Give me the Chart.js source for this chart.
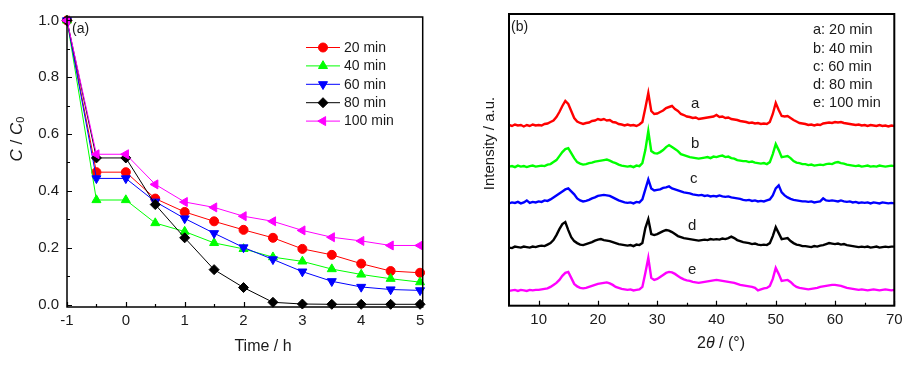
<!DOCTYPE html>
<html><head><meta charset="utf-8">
<script src="https://cdn.jsdelivr.net/npm/chart.js@4.4.1/dist/chart.umd.min.js"></script>
<style>
html,body{margin:0;padding:0;background:#fff;}
#wrap{position:relative;width:913px;height:366px;overflow:hidden;background:#fff;}
#ca{position:absolute;left:0;top:0;width:456px;height:366px;}
#cb{position:absolute;left:456px;top:0;width:457px;height:366px;}
</style></head><body>
<div id="wrap"><canvas id="ca" width="456" height="366"></canvas><canvas id="cb" width="457" height="366"></canvas></div>
<script>
// ---------- Panel (a): C/C0 vs time ----------
const timeH = [-1,-0.5,0,0.5,1,1.5,2,2.5,3,3.5,4,4.5,5];
const c20min  = [1.0,0.466,0.466,0.373,0.326,0.293,0.263,0.235,0.196,0.175,0.144,0.118,0.112];
const c40min  = [1.0,0.368,0.368,0.287,0.257,0.217,0.196,0.167,0.152,0.125,0.106,0.091,0.079];
const c60min  = [1.0,0.444,0.444,0.362,0.303,0.251,0.201,0.159,0.116,0.082,0.062,0.053,0.050];
const c80min  = [1.0,0.516,0.516,0.352,0.235,0.123,0.060,0.008,0.002,0.001,0.001,0.001,0.001];
const c100min = [1.0,0.529,0.529,0.423,0.361,0.342,0.311,0.293,0.261,0.237,0.224,0.208,0.208];
const seriesNames = ['20 min','40 min','60 min','80 min','100 min'];
const yTicksA = [0,0.2,0.4,0.6,0.8,1.0];

// ---------- Panel (b): XRD patterns ----------
const twoTheta = [
 5,5.5,6,6.5,7,7.5,8,8.5,9,9.5,
 10,10.5,11,11.5,12,12.5,13,13.5,14,14.5,
 15,15.5,16,16.5,17,17.5,18,18.5,19,19.5,
 20,20.5,21,21.5,22,22.5,23,23.5,24,24.5,
 25,25.5,26,26.5,27,27.5,28,28.5,29,29.5,
 30,30.5,31,31.5,32,32.5,33,33.5,34,34.5,
 35,35.5,36,36.5,37,37.5,38,38.5,39,39.5,
 40,40.5,41,41.5,42,42.5,43,43.5,44,44.5,
 45,45.5,46,46.5,47,47.5,48,48.5,49,49.5,
 50,50.5,51,51.5,52,52.5,53,53.5,54,54.5,
 55,55.5,56,56.5,57,57.5,58,58.5,59,59.5,
 60,60.5,61,61.5,62,62.5,63,63.5,64,64.5,
 65,65.5,66,66.5,67,67.5,68,68.5,69,69.5,
 70];
const xrdA = [
 1,0,1.5,0.5,1,-0.5,1,0,1.5,0.5,
 1,0.5,2,2.5,4,5.5,9,14,20,25,
 22,15,8,4.5,3,2,3,3.5,5,5.5,
 7,6,7,5.5,6,4,3.5,2,1.5,0.5,
 1.5,0.5,1,0,1.5,4,18,33,15,12,
 12.5,14,15.5,18,19,20,17,15,12,11,
 9.5,9,8,8.5,7,7.5,8,8.5,9,9.5,
 11,9,9.5,8,8.5,7,6.5,6,5,4.5,
 4,3,3.5,2.5,3,2,2.5,2,4,12,
 23,16,10,9.5,10,8,6,4.5,3,2.5,
 2,1,1.5,0.5,1.5,1,2.5,3,3.5,3,
 4,3.5,4,3,2.5,2,1.5,1,1.5,0.5,
 1,0,1,0.5,0,1,0,0.5,-0.5,0.5,
 0];
const xrdB = [
 0.5,1,0,1.5,0.5,1,0,1,1.5,0.5,
 1,1.5,1,2.5,3,5,7,11,15,18,
 19,14,9,5,3.5,2.5,3,4,4.5,5.5,
 6,6.5,7,7.5,6.5,5,4,2.5,1.5,1,
 0.5,1,0,1.5,1,4,17,36,16,14,
 13.5,15,17,20,22,20,18,16,13,12,
 11,10,9.5,9,8.5,9,9.5,10,9,10.5,
 10,11,11.5,10,10.5,9,8.5,7,6.5,6,
 6,5,5.5,4.5,4,3.5,4,3,5,13,
 23,17,10,10.5,11,9,6,4.5,4,3,
 3,2,2.5,1.5,2,2.5,2,3,3.5,3,
 4.5,5,4,3.5,2.5,2,1.5,1,1.5,0.5,
 1,1.5,0.5,1,0.5,1.5,1,0.5,1,1.5,
 1];
const xrdC = [
 0,1,0.5,1.5,0,1,3,0.5,1.5,1,
 2,1.5,3,2.5,4,6,8,10,12,14,
 15,12,9,5,3,2,2.5,3.5,5,6,
 7.5,8,8.5,8,7.5,6,4.5,3,2,1,
 0.5,1,0,1.5,1,4,14,24,15,13,
 13.5,14,15.5,16,17,15,14,13,12,11,
 10.5,10,9,8.5,8,8.5,7.5,8,7,7.5,
 7,8,7,6.5,7,6,5.5,5,4.5,3.5,
 3,3.5,2.5,3,2,2.5,2,3,4,8,
 15,18,11,8,6,4.5,3.5,3,2.5,2,
 2,1.5,2,1,1.5,2,5,3,2.5,3,
 2.5,2,3,2,1.5,2,1,1.5,0.5,1,
 0.5,1,0,1,0.5,0,1,0.5,0,0.5,
 0];
const xrdD = [
 0.5,0,1.5,1,0.5,1.5,1,0.5,1.5,1,
 2,2.5,2,3.5,5,8,13,19,24,26,
 18,11,7,5,3.5,3,4,5,6,7.5,
 8.5,9,8,7.5,7,6,5,4,3.5,3,
 2.5,3,2,3.5,3,5,20,29,14,13,
 14,15.5,17,18,17.5,16,14,12,11,10,
 9.5,9,8.5,8,7.5,8,8.5,8,9,8.5,
 9,8.5,9.5,9,10,11.5,10,8,7,6,
 5.5,5,4,4.5,3.5,3,3.5,3,5,12,
 21,15,9,9.5,10,7,5,3.5,3,2,
 2,1.5,1,2,1.5,2.5,3,4,5,4.5,
 4,4.5,3.5,4,3,2.5,2,1.5,1,1.5,
 1,1.5,0.5,1,1.5,0.5,1,1.5,1,1.5,
 1.5];
const xrdE = [
 0,0.5,1,0,1,0.5,0,1,0.5,1,
 1,1.5,2,2.5,4,6,8,11,15,18,
 19,13,7,4.5,3,2.5,3,4,5,6,
 7,7.5,8,8.5,7.5,6,4,3,2,1.5,
 1,1.5,0.5,1,1.5,4,18,33,13,11,
 12,14,16,18,19,18.5,17,15,13,11.5,
 10.5,10,9,8.5,8,8.5,9,9.5,10,10.5,
 11,10.5,10,9.5,9,8.5,8,7,6,5.5,
 5,4.5,4,3,0.5,1.5,2.5,3,5,12,
 23,17,10,10.5,11,9,6,4,3,2.5,
 2,1.5,2,2.5,3,4,4.5,5,5.5,6,
 6,5.5,5,4,3,2.5,2,1.5,1,1.5,
 1,0.5,1,1.5,1,0.5,1,1.5,1,0.5,
 1];
const xrdOffsets = [179.7, 138.6, 102.3, 57.6, 14.8];   // vertical stacking offsets (a.u.)
const xrdLabels = ['a','b','c','d','e'];
const xrdLegend = ['a: 20 min','b: 40 min','c: 60 min','d: 80 min','e: 100 min'];
const xTicksB = [10,20,30,40,50,60,70];

// ---------- styling ----------
const FONT = '"Liberation Sans", Arial, "DejaVu Sans", sans-serif';
const INK = '#1a1a1a';
const COLORS = ['#ff0000','#00ff00','#0000ff','#000000','#ff00ff'];
const PSTYLE = ['circle','triangle','triangle','rectRot','triangle'];
const PROT = [0,0,180,0,270];
const PRAD = [4.5,5.2,5.2,5,5.2];
Chart.defaults.font.family = FONT;
Chart.defaults.color = INK;

function minorVals(ticks){const v=[];for(let i=0;i<ticks.length-1;i++)v.push((ticks[i].value+ticks[i+1].value)/2);return v;}
function drawRuns(ctx,runs,cx,cy,rot){
  ctx.save();ctx.translate(cx,cy);ctx.rotate(rot||0);
  let w=0;runs.forEach(r=>{ctx.font=r.font;r.w=ctx.measureText(r.t).width;w+=r.w;});
  let x=-w/2;ctx.textBaseline='middle';ctx.textAlign='left';ctx.fillStyle=INK;
  runs.forEach(r=>{ctx.font=r.font;ctx.fillText(r.t,x,r.dy||0);x+=r.w;});
  ctx.restore();
}

const frameTicks = {
  id:'frameTicks',
  afterDraw(chart, args, o){
    const {ctx, chartArea:a} = chart;
    ctx.save();
    ctx.strokeStyle='#000';
    ctx.lineWidth=o.frame;
    ctx.strokeRect(a.left,a.top,a.right-a.left,a.bottom-a.top);
    ctx.lineWidth=1.2;
    ctx.beginPath();
    (o.axes||[]).forEach(id=>{
      const s=chart.scales[id];
      const put=(v,len)=>{
        const p=Math.round(s.getPixelForValue(v))+0.5;
        if(s.isHorizontal()){ctx.moveTo(p,a.bottom);ctx.lineTo(p,a.bottom-len);}
        else {ctx.moveTo(a.left,p);ctx.lineTo(a.left+len,p);}
      };
      s.ticks.forEach(t=>put(t.value,o.major));
      minorVals(s.ticks).forEach(v=>put(v,o.minor));
    });
    ctx.stroke();
    (o.texts||[]).forEach(t=>{
      ctx.font=t.font;ctx.fillStyle=INK;ctx.textAlign=t.align||'left';ctx.textBaseline='middle';
      ctx.fillText(t.text,t.x,t.y);
    });
    (o.titles||[]).forEach(t=>drawRuns(ctx,t.runs,t.x,t.y,t.rot));
    if(o.legend){
      const L=o.legend;
      chart.data.datasets.forEach((ds,i)=>{
        const y=L.y0+i*L.dy;
        ctx.strokeStyle=ds.borderColor;ctx.lineWidth=1;
        ctx.beginPath();ctx.moveTo(L.x0,y);ctx.lineTo(L.x1,y);ctx.stroke();
        ctx.fillStyle=ds.pointBackgroundColor;ctx.strokeStyle=ds.pointBorderColor;ctx.lineWidth=1;
        Chart.helpers.drawPoint(ctx,{pointStyle:ds.pointStyle,rotation:ds.pointRotation,radius:ds.pointRadius,borderWidth:1},(L.x0+L.x1)/2,y);
        ctx.font=L.font;ctx.fillStyle=INK;ctx.textAlign='left';ctx.textBaseline='middle';
        ctx.fillText(seriesNames[i],L.xt,y+0.5);
      });
    }
    ctx.restore();
  }
};

const F = (s,st)=>(st?st+' ':'')+s+'px '+FONT;

// ---------- Chart (a) ----------
const seriesA=[c20min,c40min,c60min,c80min,c100min];
new Chart(document.getElementById('ca'),{
  type:'line',
  data:{datasets:seriesA.map((s,i)=>({
    label:seriesNames[i],
    data:timeH.map((t,j)=>({x:t,y:s[j]})),
    borderColor:COLORS[i],backgroundColor:COLORS[i],
    pointBackgroundColor:COLORS[i],pointBorderColor:COLORS[i],
    pointStyle:PSTYLE[i],pointRotation:PROT[i],pointRadius:PRAD[i],pointBorderWidth:1,
    borderWidth:1,tension:0,clip:false,order:5-i
  }))},
  options:{
    responsive:false,animation:false,devicePixelRatio:1,
    layout:{padding:{left:0,top:16,right:33.3,bottom:0}},
    plugins:{legend:{display:false},tooltip:{enabled:false},
      frameTicks:{frame:1.5,major:5,minor:3,axes:['x','y'],
        texts:[{text:'(a)',x:72,y:29,font:F(14)}],
        titles:[
          {x:263,y:347,rot:0,runs:[{t:'Time / h',font:F(16)}]},
          {x:17,y:139,rot:-Math.PI/2,runs:[
            {t:'C',font:F(17,'italic')},{t:' / ',font:F(17)},{t:'C',font:F(17,'italic')},{t:'0',font:F(11),dy:4}]}
        ],
        legend:{x0:306,x1:340,xt:344,y0:47.5,dy:18.4,font:F(14)}}},
    scales:{
      x:{type:'linear',min:-1,max:5.045,
        ticks:{stepSize:1,includeBounds:false,padding:5,font:{size:15},color:INK,maxRotation:0,
          callback:v=>String(v)},
        grid:{display:false,drawTicks:false},border:{display:false},
        title:{display:false},
        afterFit:s=>{s.height=59;}},
      y:{type:'linear',min:-0.0085,max:1.012,
        afterBuildTicks:s=>{s.ticks=yTicksA.map(v=>({value:v}));},
        ticks:{padding:8,font:{size:15},color:INK,callback:v=>Number(v).toFixed(1)},
        grid:{display:false,drawTicks:false},border:{display:false},
        title:{display:false},
        afterFit:s=>{s.width=67;}}
    }
  },
  plugins:[frameTicks]
});

// ---------- Chart (b) ----------
const xrd=[xrdA,xrdB,xrdC,xrdD,xrdE];
new Chart(document.getElementById('cb'),{
  type:'line',
  data:{datasets:xrd.map((s,i)=>({
    label:xrdLegend[i],
    data:twoTheta.map((t,j)=>({x:t,y:xrdOffsets[i]+s[j]})),
    borderColor:COLORS[i],backgroundColor:COLORS[i],
    pointRadius:0,borderWidth:2.4,tension:0,order:i
  }))},
  options:{
    responsive:false,animation:false,devicePixelRatio:1,
    layout:{padding:{left:0,top:14,right:18.7,bottom:0}},
    plugins:{legend:{display:false},tooltip:{enabled:false},
      frameTicks:{frame:2,major:5,minor:3,axes:['x'],
        texts:[
          {text:'(b)',x:55,y:27,font:F(14)},
          {text:xrdLegend[0],x:357,y:30,font:F(14.5)},
          {text:xrdLegend[1],x:357,y:48.5,font:F(14.5)},
          {text:xrdLegend[2],x:357,y:67,font:F(14.5)},
          {text:xrdLegend[3],x:357,y:85,font:F(14.5)},
          {text:xrdLegend[4],x:357,y:103,font:F(14.5)},
          {text:xrdLabels[0],x:235,y:104,font:F(15)},
          {text:xrdLabels[1],x:235,y:144,font:F(15)},
          {text:xrdLabels[2],x:234,y:179,font:F(15)},
          {text:xrdLabels[3],x:232,y:226,font:F(15)},
          {text:xrdLabels[4],x:232,y:270,font:F(15)}
        ],
        titles:[
          {x:265,y:343.5,rot:0,runs:[{t:'2',font:F(16)},{t:'θ',font:F(16,'italic')},{t:' / (°)',font:F(16)}]},
          {x:34,y:143.5,rot:-Math.PI/2,runs:[{t:'Intensity / a.u.',font:F(15)}]}
        ]}},
    scales:{
      x:{type:'linear',min:5,max:70,
        afterBuildTicks:s=>{s.ticks=xTicksB.map(v=>({value:v}));},
        ticks:{padding:5,font:{size:15},color:INK,maxRotation:0},
        grid:{display:false,drawTicks:false},border:{display:false},
        title:{display:false},
        afterFit:s=>{s.height=60.3;}},
      y:{type:'linear',min:0,max:291.7,
        ticks:{display:false},
        grid:{display:false,drawTicks:false},border:{display:false},
        title:{display:false},
        afterFit:s=>{s.width=53;}}
    }
  },
  plugins:[frameTicks]
});
</script>
</body></html>
